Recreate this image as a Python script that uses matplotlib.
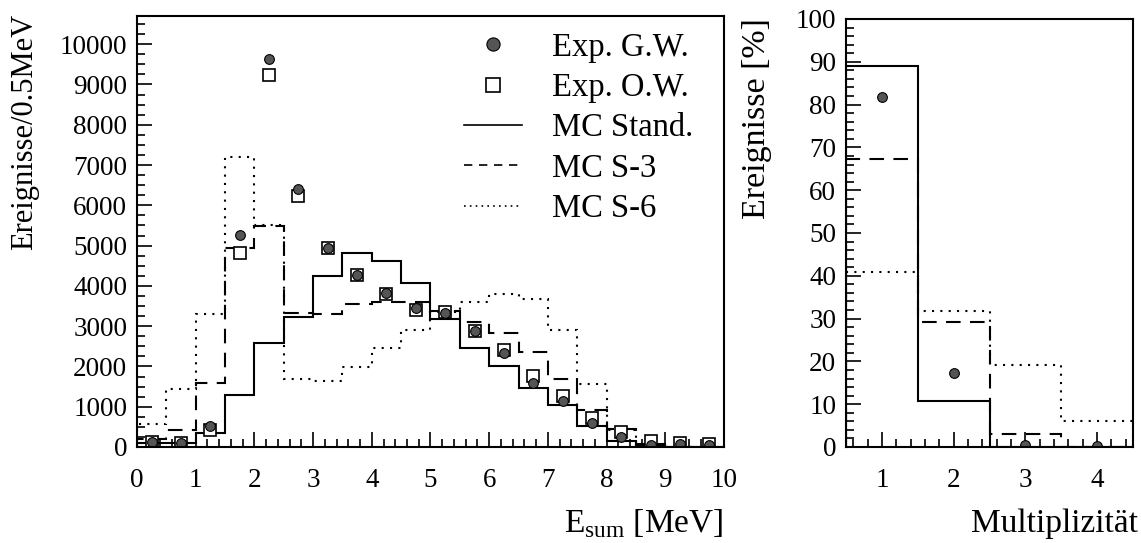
import matplotlib
matplotlib.use('Agg')
import matplotlib.pyplot as plt
from matplotlib.lines import Line2D
from matplotlib.ticker import MultipleLocator

plt.rcParams['font.family'] = ['Liberation Serif', 'DejaVu Serif']
plt.rcParams['mathtext.fontset'] = 'custom'
plt.rcParams['mathtext.rm'] = 'Liberation Serif'

# E_sum spectrum, 0.5 MeV bins
bin_edges = [0, 0.5, 1, 1.5, 2, 2.5, 3, 3.5, 4, 4.5, 5,
             5.5, 6, 6.5, 7, 7.5, 8, 8.5, 9, 9.5, 10]
bin_centers = [0.25, 0.75, 1.25, 1.75, 2.25, 2.75, 3.25, 3.75, 4.25, 4.75,
               5.25, 5.75, 6.25, 6.75, 7.25, 7.75, 8.25, 8.75, 9.25, 9.75]
mc_stand = [90, 90, 340, 1290, 2580, 3230, 4240, 4820, 4630, 4070,
            3170, 2460, 2000, 1460, 1050, 530, 160, 30, 0, 0]
mc_s3 = [200, 410, 1580, 4940, 5480, 3320, 3300, 3560, 3610, 3610,
         3370, 3100, 2820, 2370, 1700, 920, 440, 80, 0, 0]
mc_s6 = [560, 1430, 3300, 7200, 5500, 1680, 1640, 1980, 2470, 2910,
         3350, 3610, 3800, 3680, 2910, 1570, 420, 60, 0, 0]
exp_gw = [130, 100, 520, 5260, 9640, 6410, 4940, 4280, 3820, 3450,
          3320, 2870, 2330, 1580, 1130, 590, 240, 60, 70, 40]
exp_ow = [120, 90, 420, 4820, 9230, 6230, 4940, 4280, 3800, 3400,
          3350, 2870, 2410, 1770, 1270, 710, 380, 150, 110, 80]

# multiplicity in percent
mult_edges = [0.5, 1.5, 2.5, 3.5, 4.5]
mult = [1, 2, 3, 4]
mult_stand = [89.0, 10.7, 0, 0]
mult_s3 = [67.3, 29.1, 3.0, 0]
mult_s6 = [40.8, 31.7, 19.1, 6.0]
mult_gw = [81.7, 17.3, 0.4, 0.2]

W, H = 1141, 543
fig = plt.figure(figsize=(W / 100, H / 100), dpi=100)

ls_dash = (0, (7, 4.5))
ls_dot = (0, (1, 3.0))
lw = 1.5
gw_style = dict(ls='none', marker='o', ms=7, mfc='#555555', mec='k', mew=0.8)
ow_style = dict(ls='none', marker='s', ms=8, mfc='white', mec='k', mew=1.2)


def style_axes(ax, xmaj, xmin, ymaj, ymin):
    ax.xaxis.set_major_locator(MultipleLocator(xmaj))
    ax.xaxis.set_minor_locator(MultipleLocator(xmin))
    ax.yaxis.set_major_locator(MultipleLocator(ymaj))
    ax.yaxis.set_minor_locator(MultipleLocator(ymin))
    ax.tick_params(which='both', direction='in', top=False, right=False, width=1.2)
    ax.tick_params(which='major', length=11, labelsize=19.5)
    ax.tick_params(which='minor', length=6)
    ax.tick_params(axis='x', pad=15)
    ax.tick_params(axis='y', pad=7)
    for s in ax.spines.values():
        s.set_linewidth(1.5)


# left panel
ax1 = fig.add_axes([137 / W, 1 - 447 / H, 587 / W, 431 / H])
ax1.stairs(mc_stand, bin_edges, color='k', lw=lw)
ax1.stairs(mc_s3, bin_edges, color='k', lw=lw, ls=ls_dash)
ax1.stairs(mc_s6, bin_edges, color='k', lw=lw, ls=ls_dot)
ax1.plot(bin_centers, exp_ow, **ow_style)
ax1.plot(bin_centers, exp_gw, **gw_style)
ax1.set_xlim(0, 10)
ax1.set_ylim(0, 10700)
style_axes(ax1, 1, 0.2, 1000, 250)

handles = [
    Line2D([], [], **dict(gw_style, ms=9.5)),
    Line2D([], [], **dict(ow_style, ms=10)),
    Line2D([], [], color='k', lw=1.2),
    Line2D([], [], color='k', lw=1.2, ls=(0, (5, 4))),
    Line2D([], [], color='k', lw=1.2, ls=(0, (1, 2.5))),
]
labels = ['Exp. G.W.', 'Exp. O.W.', 'MC Stand.', 'MC S-3', 'MC S-6']
ax1.legend(handles, labels, loc='upper right', bbox_to_anchor=(0.947, 0.962),
           frameon=False, fontsize=23.5, handlelength=1.8, handletextpad=0.9,
           labelspacing=0.3, borderaxespad=0, borderpad=0)

# right panel
ax2 = fig.add_axes([846 / W, 1 - 447 / H, 287 / W, 428 / H])
ax2.stairs(mult_stand, mult_edges, color='k', lw=lw)
ax2.stairs(mult_s3, mult_edges, color='k', lw=lw, ls=ls_dash)
ax2.stairs(mult_s6, mult_edges, color='k', lw=lw, ls=ls_dot)
ax2.plot(mult, mult_gw, **gw_style)
ax2.set_xlim(0.5, 4.5)
ax2.set_ylim(0, 100)
style_axes(ax2, 1, 0.2, 10, 2)

fig.text(25 / W, 1 - 14 / H, 'Ereignisse/0.5MeV', rotation=90, ha='center', va='top', fontsize=22)
fig.text(757 / W, 1 - 18 / H, 'Ereignisse [%]', rotation=90, ha='center', va='top', fontsize=24.5)
fig.text(723 / W, 1 - 532 / H, r'E$_{\mathrm{sum}}$ [MeV]', ha='right', va='baseline', fontsize=24)
fig.text(1138 / W, 1 - 532 / H, 'Multiplizität', ha='right', va='baseline', fontsize=24)

fig.savefig('out.png', dpi=100)
